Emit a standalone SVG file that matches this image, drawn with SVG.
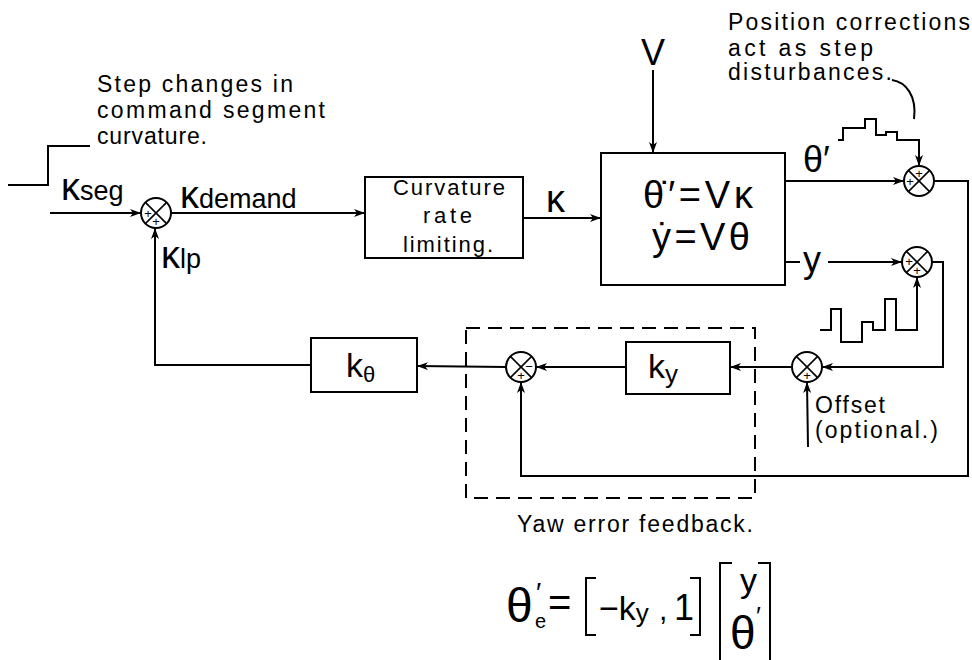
<svg xmlns="http://www.w3.org/2000/svg" width="972" height="660" viewBox="0 0 972 660">
<defs>
<marker id="arr" markerUnits="userSpaceOnUse" markerWidth="12" markerHeight="10" refX="11" refY="4" orient="auto">
<path d="M0,0 L11,4 L0,8 L3,4 z" fill="#000"/>
</marker>
<style>
text{font-family:"Liberation Sans","DejaVu Sans",sans-serif;fill:#000}
.t{font-size:23px}
.s{font-size:22px}
.big{font-size:36px}
.kap{font-size:38px}
.sub{font-size:27px}
.pm{font-size:13px;text-anchor:middle}
.ln{fill:none;stroke:#000;stroke-width:2}
.ar{fill:none;stroke:#000;stroke-width:2;marker-end:url(#arr)}
.box{fill:#fff;stroke:#000;stroke-width:2}
.j{fill:#fff;stroke:#000;stroke-width:2}
.x{stroke:#000;stroke-width:1.6}
.br{fill:none;stroke:#000;stroke-width:2}
.dash{fill:none;stroke:#000;stroke-width:2;stroke-dasharray:14 8}
</style>
</defs>
<rect width="972" height="660" fill="#fff"/>

<g id="yaw-feedback-frame">
<rect class="dash" x="466" y="328" width="289" height="170"/>
<text class="t" x="517" y="532" textLength="236">Yaw error feedback.</text>
</g>

<g id="connectors">
<polyline class="ln" points="8,185 48,185 48,146 90,146"/>
<line class="ar" x1="50" y1="213" x2="141" y2="213"/>
<line class="ar" x1="171" y1="213" x2="365" y2="213"/>
<line class="ar" x1="523" y1="218" x2="601" y2="218"/>
<line class="ar" x1="653" y1="70" x2="653" y2="153"/>
<line class="ar" x1="785" y1="181" x2="904" y2="181"/>
<polyline class="ar" points="838,140 843,140 843,128 865,128 865,119 876,119 876,135 886,135 886,132 897,132 897,140 919,140 919,166"/>
<path class="ln" d="M892,80 C906,82 917,96 914,119"/>
<polyline class="ar" points="934,181 968,181 968,476 521,476 521,382"/>
<polyline class="ln" points="785,262 800,262"/>
<line class="ar" x1="828" y1="262" x2="902" y2="262"/>
<polyline class="ar" points="820,330 831,330 831,309 841,309 841,342 862,342 862,322 873,322 873,330 885,330 885,299 896,299 896,330 917,330 917,277"/>
<polyline class="ar" points="932,262 943,262 943,367 822,367"/>
<line class="ar" x1="808" y1="447" x2="807" y2="382"/>
<line class="ar" x1="792" y1="367" x2="730" y2="367"/>
<line class="ar" x1="626" y1="367" x2="536" y2="367"/>
<line class="ar" x1="506" y1="367" x2="417" y2="366"/>
<polyline class="ar" points="311,365 155,365 155,228"/>
</g>

<g id="step-input-label">
<text class="t" x="97" y="92" textLength="196">Step changes in</text>
<text class="t" x="97" y="118" textLength="228">command segment</text>
<text class="t" x="97" y="144" textLength="110">curvature.</text>
</g>

<g id="kseg-label">
<text x="61" y="200"><tspan class="kap">κ</tspan><tspan class="sub">seg</tspan></text>
</g>
<g id="kdemand-label">
<text x="180" y="208"><tspan class="kap">κ</tspan><tspan class="sub">demand</tspan></text>
</g>
<g id="klp-label">
<text x="161" y="268"><tspan class="kap">κ</tspan><tspan class="sub">lp</tspan></text>
</g>

<g id="sum1">
<circle class="j" cx="156" cy="213" r="15"/>
<line class="x" x1="145.4" y1="202.4" x2="166.6" y2="223.6"/>
<line class="x" x1="166.6" y1="202.4" x2="145.4" y2="223.6"/>
<text class="pm" x="148" y="218">+</text>
<text class="pm" x="156" y="226">+</text>
</g>

<g id="curvature-rate-limiting">
<rect class="box" x="365" y="177" width="158" height="81"/>
<text class="s" x="393" y="195" textLength="112">Curvature</text>
<text class="s" x="423" y="223" textLength="49">rate</text>
<text class="s" x="403" y="252" textLength="90">limiting.</text>
</g>

<g id="kappa-label">
<text class="kap" x="546" y="212">κ</text>
</g>

<g id="v-input">
<text class="big" x="653" y="65" text-anchor="middle">V</text>
</g>

<g id="vehicle-model">
<rect class="box" x="601" y="153" width="184" height="132"/>
<text x="643" y="208" font-size="38" textLength="110">θ̇′=Vκ</text>
<text x="652" y="250" font-size="38" textLength="98">ẏ=Vθ</text>
</g>

<g id="theta-label">
<text x="803" y="172" font-size="36">θ′</text>
</g>

<g id="disturbance-label">
<text class="t" x="728" y="30" textLength="242">Position corrections</text>
<text class="t" x="728" y="56" textLength="145">act as step</text>
<text class="t" x="728" y="80" textLength="164">disturbances.</text>
</g>

<g id="sum-theta">
<circle class="j" cx="919" cy="181" r="15"/>
<line class="x" x1="908.4" y1="170.4" x2="929.6" y2="191.6"/>
<line class="x" x1="929.6" y1="170.4" x2="908.4" y2="191.6"/>
<text class="pm" x="919" y="178">+</text>
<text class="pm" x="910" y="186">+</text>
</g>

<g id="y-label">
<text x="803" y="272" font-size="36">y</text>
</g>

<g id="sum-y">
<circle class="j" cx="917" cy="262" r="15"/>
<line class="x" x1="906.4" y1="251.4" x2="927.6" y2="272.6"/>
<line class="x" x1="927.6" y1="251.4" x2="906.4" y2="272.6"/>
<text class="pm" x="909" y="266">+</text>
<text class="pm" x="917" y="275">+</text>
</g>

<g id="sum-offset">
<circle class="j" cx="807" cy="367" r="15"/>
<line class="x" x1="796.4" y1="356.4" x2="817.6" y2="377.6"/>
<line class="x" x1="817.6" y1="356.4" x2="796.4" y2="377.6"/>
<text class="pm" x="807" y="380">+</text>
</g>

<g id="offset-label">
<text class="t" x="815" y="413" textLength="70">Offset</text>
<text class="t" x="815" y="438" textLength="123">(optional.)</text>
</g>

<g id="ky-block">
<rect class="box" x="626" y="342" width="104" height="52"/>
<text x="648" y="378" font-size="34">k<tspan font-size="26" dy="5">y</tspan></text>
</g>

<g id="sum-yaw">
<circle class="j" cx="521" cy="367" r="15"/>
<line class="x" x1="510.4" y1="356.4" x2="531.6" y2="377.6"/>
<line class="x" x1="531.6" y1="356.4" x2="510.4" y2="377.6"/>
<text class="pm" x="529" y="371">−</text>
<text class="pm" x="521" y="380">+</text>
</g>

<g id="ktheta-block">
<rect class="box" x="311" y="338" width="106" height="54"/>
<text x="346" y="377" font-size="34">k<tspan font-size="22" dy="5">θ</tspan></text>
</g>

<g id="equation">
<text x="506" y="622" font-size="48">θ</text>
<text x="536" y="602" font-size="28">′</text>
<text x="535" y="628" font-size="20">e</text>
<text x="548" y="616" font-size="40">=</text>
<path class="br" d="M596,578 H586 V635 H596"/>
<text x="599" y="620" font-size="34">−k<tspan font-size="26" dy="2">y</tspan></text>
<text x="659" y="620" font-size="30">,</text>
<text x="674" y="620" font-size="36">1</text>
<path class="br" d="M690,578 H700 V635 H690"/>
<path class="br" d="M732,563 H720 V662"/>
<text x="740" y="592" font-size="34">y</text>
<text x="730" y="649" font-size="46">θ</text>
<text x="756" y="625" font-size="26">′</text>
<path class="br" d="M758,563 H770 V662"/>
</g>
</svg>
